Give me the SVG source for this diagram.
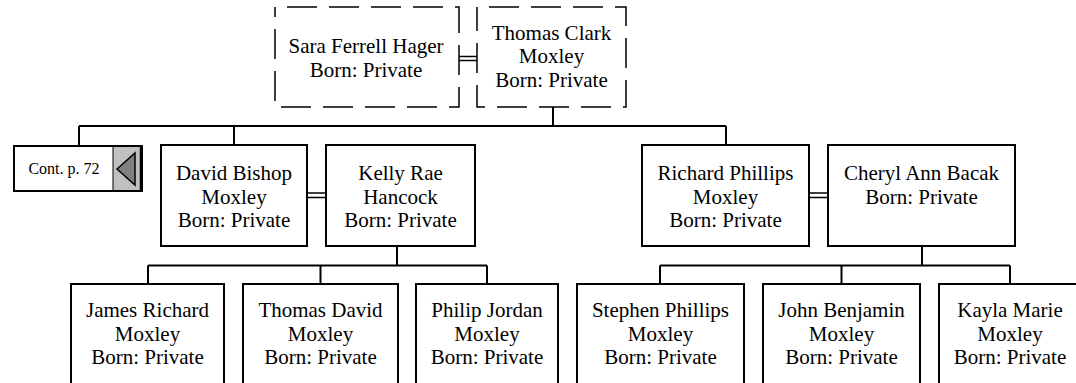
<svg xmlns="http://www.w3.org/2000/svg" width="1076" height="383" viewBox="0 0 1076 383">
<style>
.box{fill:#fff;stroke:#000;stroke-width:2}
.dbox{fill:#fff;stroke:#000;stroke-width:1.5;stroke-dasharray:30 12;stroke-dashoffset:30}
.t{font-size:21px;fill:#000;text-anchor:middle}
.s{font-size:16px;fill:#000;text-anchor:middle}
.c{fill:none;stroke:#000;stroke-width:2}
.m{fill:none;stroke:#000;stroke-width:1.5}
</style>
<rect width="1076" height="383" fill="#fff"/>
<g id="connectors">
<path class="c" d="M553 107V126M79 126H726M79 126V146M234 126V145M726 126V145"/>
<path class="m" d="M459 56.5H477M459 60.5H477M307 193H326M307 197.5H326M809 193H828M809 197.5H828"/>
<path class="c" d="M397 246V265.5M148 265.5H487M148 265.5V284M320.5 265.5V284M487 265.5V284"/>
<path class="c" d="M922 246V265.5M660 265.5H1010M660 265.5V284M841.5 265.5V284M1010 265.5V284"/>
</g>
<g font-family="Liberation Serif, DejaVu Serif, serif">
<g id="sara">
<rect class="dbox" x="275" y="7" width="184" height="100"/>
<text class="t" x="366" y="53">Sara Ferrell Hager</text>
<text class="t" x="366" y="76.5">Born: Private</text>
</g>
<g id="thomas-clark">
<rect class="dbox" x="477" y="7" width="149" height="100"/>
<text class="t" x="551.5" y="39.5">Thomas Clark</text>
<text class="t" x="551.5" y="63">Moxley</text>
<text class="t" x="551.5" y="86.5">Born: Private</text>
</g>
<g id="cont">
<rect x="14" y="146" width="128" height="45" fill="#fff" stroke="#000" stroke-width="2"/>
<rect x="113" y="147" width="28" height="43" fill="#c0c0c0"/>
<line x1="113" y1="146" x2="113" y2="191" stroke="#000" stroke-width="1"/>
<line x1="141" y1="146" x2="141" y2="191" stroke="#000" stroke-width="2.5"/>
<polygon points="117,169 135,153 135,185" fill="#808080" stroke="#000" stroke-width="1.5"/>
<text class="s" x="64" y="174">Cont. p. 72</text>
</g>
<g id="david">
<rect class="box" x="161" y="145" width="146" height="101"/>
<text class="t" x="234" y="180">David Bishop</text>
<text class="t" x="234" y="203.5">Moxley</text>
<text class="t" x="234" y="227">Born: Private</text>
</g>
<g id="kelly">
<rect class="box" x="326" y="145" width="149" height="101"/>
<text class="t" x="400.5" y="180">Kelly Rae</text>
<text class="t" x="400.5" y="203.5">Hancock</text>
<text class="t" x="400.5" y="227">Born: Private</text>
</g>
<g id="richard">
<rect class="box" x="642" y="145" width="167" height="101"/>
<text class="t" x="725.5" y="180">Richard Phillips</text>
<text class="t" x="725.5" y="203.5">Moxley</text>
<text class="t" x="725.5" y="227">Born: Private</text>
</g>
<g id="cheryl">
<rect class="box" x="828" y="145" width="187" height="101"/>
<text class="t" x="921.5" y="180">Cheryl Ann Bacak</text>
<text class="t" x="921.5" y="203.5">Born: Private</text>
</g>
<g id="james">
<rect class="box" x="71" y="284" width="153" height="120"/>
<text class="t" x="147.5" y="317">James Richard</text>
<text class="t" x="147.5" y="340.5">Moxley</text>
<text class="t" x="147.5" y="364">Born: Private</text>
</g>
<g id="thomas-david">
<rect class="box" x="243" y="284" width="155" height="120"/>
<text class="t" x="320.5" y="317">Thomas David</text>
<text class="t" x="320.5" y="340.5">Moxley</text>
<text class="t" x="320.5" y="364">Born: Private</text>
</g>
<g id="philip">
<rect class="box" x="416" y="284" width="142" height="120"/>
<text class="t" x="487" y="317">Philip Jordan</text>
<text class="t" x="487" y="340.5">Moxley</text>
<text class="t" x="487" y="364">Born: Private</text>
</g>
<g id="stephen">
<rect class="box" x="577" y="284" width="167" height="120"/>
<text class="t" x="660.5" y="317">Stephen Phillips</text>
<text class="t" x="660.5" y="340.5">Moxley</text>
<text class="t" x="660.5" y="364">Born: Private</text>
</g>
<g id="john">
<rect class="box" x="763" y="284" width="157" height="120"/>
<text class="t" x="841.5" y="317">John Benjamin</text>
<text class="t" x="841.5" y="340.5">Moxley</text>
<text class="t" x="841.5" y="364">Born: Private</text>
</g>
<g id="kayla">
<rect class="box" x="939" y="284" width="142" height="120"/>
<text class="t" x="1010" y="317">Kayla Marie</text>
<text class="t" x="1010" y="340.5">Moxley</text>
<text class="t" x="1010" y="364">Born: Private</text>
</g>
</g>
</svg>
